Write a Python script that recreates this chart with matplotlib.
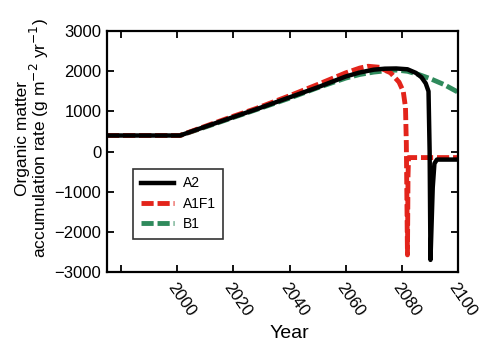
import matplotlib
matplotlib.use('Agg')
import matplotlib.pyplot as plt

plt.rcParams['font.family'] = ['Liberation Sans', 'DejaVu Sans']

# --- Escenarios: tasa de acumulación de materia orgánica ---
anios_a2 = [1975, 2001, 2010, 2020, 2028, 2040, 2050, 2060, 2065, 2070, 2074, 2078,
            2082, 2085, 2087, 2088.5, 2089.5, 2089.9, 2090.2, 2091, 2091.6, 2092.5, 2100]
a2 = [400, 400, 620, 860, 1050, 1350, 1600, 1870, 1970, 2040, 2065, 2070,
      2050, 1960, 1850, 1700, 1500, 0, -2700, -900, -300, -200, -200]

anios_a1f1 = [1975, 2001, 2010, 2020, 2028, 2040, 2050, 2060, 2065, 2068, 2072, 2076,
              2079, 2080.5, 2081.3, 2081.6, 2082, 2082.2, 2082.4, 2100]
a1f1 = [400, 400, 630, 880, 1070, 1390, 1670, 1960, 2080, 2125, 2100, 1960,
        1730, 1500, 1100, 200, -2575, -600, -150, -150]

anios_b1 = [1975, 2001, 2010, 2020, 2028, 2040, 2050, 2060, 2065, 2070, 2074, 2078,
            2082, 2086, 2090, 2095, 2100]
b1 = [400, 400, 610, 850, 1040, 1330, 1590, 1830, 1920, 1980, 2010, 2030,
      2000, 1920, 1820, 1670, 1480]

ticks_x = [1980, 2000, 2020, 2040, 2060, 2080, 2100]
etiquetas_x = ['', '2000', '2020', '2040', '2060', '2080', '2100']
ticks_y = [-3000, -2000, -1000, 0, 1000, 2000, 3000]

fig = plt.figure(figsize=(5, 3.5), dpi=100)
ax = fig.add_axes([0.214, 0.223, 0.702, 0.688])

ax.plot(anios_b1, b1, color='#2f8a5c', linewidth=3.5, dashes=(2.5, 0.8), label='B1')
ax.plot(anios_a1f1, a1f1, color='#e3241b', linewidth=3.5, dashes=(2.5, 0.8), label='A1F1')
ax.plot(anios_a2, a2, color='black', linewidth=3.2, label='A2')

ax.set_xlim(1975, 2100)
ax.set_ylim(-3000, 3000)
ax.set_xticks(ticks_x)
ax.set_xticklabels(etiquetas_x, rotation=-55, ha='left', va='top',
                   rotation_mode='anchor', fontsize=12)
ax.set_yticks(ticks_y)
ax.tick_params(axis='both', direction='in', top=True, right=True, length=5,
               width=1.3, labelsize=12, pad=4)
ax.tick_params(axis='x', pad=6)
for s in ax.spines.values():
    s.set_linewidth(1.6)

ax.set_xlabel('Year', fontsize=14)
ax.xaxis.set_label_coords(0.52, -0.255)
ax.xaxis.label.set_va('center')
ax.set_ylabel('Organic matter\naccumulation rate (g m$^{-2}$ yr$^{-1}$)',
              fontsize=12.5, linespacing=0.9)
ax.yaxis.set_label_coords(-0.16, 0.555)

# Orden de la leyenda: A2, A1F1, B1
h, l = ax.get_legend_handles_labels()
leg = ax.legend([h[2], h[1], h[0]], ['A2', 'A1F1', 'B1'], loc='lower left',
                bbox_to_anchor=(0.055, 0.11), fontsize=10, frameon=True, fancybox=False,
                handlelength=2.4, borderpad=0.55, labelspacing=0.45, handletextpad=0.6)
leg.get_frame().set_edgecolor('black')
leg.get_frame().set_linewidth(1.2)

fig.savefig('out.png', dpi=100)
